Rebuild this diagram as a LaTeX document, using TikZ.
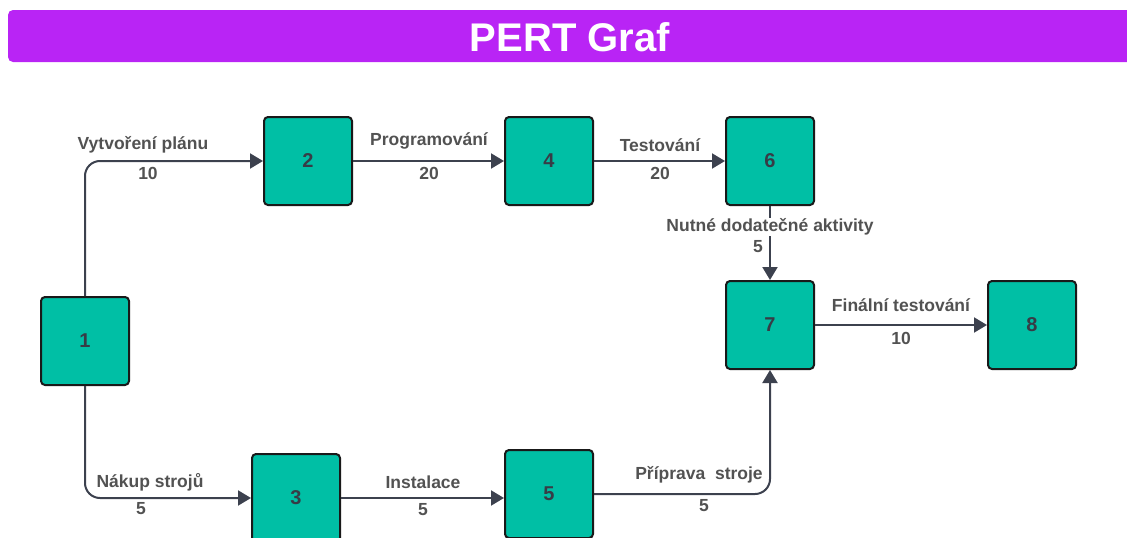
\documentclass[tikz,border=0pt]{standalone}
\usepackage{fontspec}
\setmainfont{Liberation Sans}
\usetikzlibrary{arrows.meta, positioning}
\definecolor{pertpurple}{RGB}{185, 36, 245}
\definecolor{pertteal}{RGB}{0, 191, 165}
\definecolor{pertline}{RGB}{60, 65, 78}
\definecolor{pertlabel}{RGB}{82, 82, 82}
\definecolor{pertnum}{RGB}{55, 60, 70}

\begin{document}
\begin{tikzpicture}[
    x=1pt, y=-1pt,
    >={Triangle[length=13pt, width=15pt]},
    event/.style={draw=black!90, line width=2pt, fill=pertteal, rounded corners=4pt,
        minimum width=88pt, minimum height=88pt, inner sep=0pt,
        font=\fontsize{20}{20}\selectfont\bfseries, text=pertnum},
    activity/.style={font=\fontsize{17.5}{17.5}\selectfont\bfseries, text=pertlabel, inner sep=1pt},
    link/.style={->, line width=2pt, draw=pertline, rounded corners=15pt}
]

\useasboundingbox (0,0) rectangle (1127,538);
\clip (0,0) rectangle (1127,538);

% =============================================
% Title bar
% =============================================
\fill[pertpurple, rounded corners=5pt] (8,10) rectangle (1145,62);
\node[text=white, font=\fontsize{40}{40}\selectfont\bfseries] (title) at (570,37) {PERT Graf};

% =============================================
% Events
% =============================================
\node[event] (n1) at (85,341) {1};
\node[event] (n2) at (308,161) {2};
\node[event] (n4) at (549,161) {4};
\node[event] (n6) at (770,161) {6};
\node[event] (n7) at (770,325) {7};
\node[event] (n8) at (1032,325) {8};
\node[event] (n3) at (296,498) {3};
\node[event] (n5) at (549,494) {5};

% =============================================
% Activities (upper branch)
% =============================================
\draw[link] (n1.north) |- (n2.west);
\node[activity] (a12) at (143,145) {Vytvoření plánu};
\node[activity] (d12) at (148,173) {10};

\draw[link] (n2) -- (n4);
\node[activity] (a24) at (429,141) {Programování};
\node[activity] (d24) at (429,173) {20};

\draw[link] (n4) -- (n6);
\node[activity] (a46) at (660,145) {Testování};
\node[activity] (d46) at (660,173) {20};

\draw[link] (n6) -- (n7);
\node[activity, fill=white] (a67) at (770,227) {Nutné dodatečné aktivity};
\node[activity] (d67) at (758,247) {5};

\draw[link] (n7) -- (n8);
\node[activity] (a78) at (901,305) {Finální testování};
\node[activity] (d78) at (901,338) {10};

% =============================================
% Activities (lower branch)
% =============================================
\draw[link] (n1.south) |- (n3.west);
\node[activity] (a13) at (150,482) {Nákup strojů};
\node[activity] (d13) at (141,509) {5};

\draw[link] (n3.east) -- (n3.east -| n5.west);
\node[activity] (a35) at (423,482) {Instalace};
\node[activity] (d35) at (423,510) {5};

\draw[link] (n5.east) -| (n7.south);
\node[activity] (a57) at (699,475) {Příprava\ \ stroje};
\node[activity] (d57) at (704,506) {5};

\end{tikzpicture}
\end{document}
